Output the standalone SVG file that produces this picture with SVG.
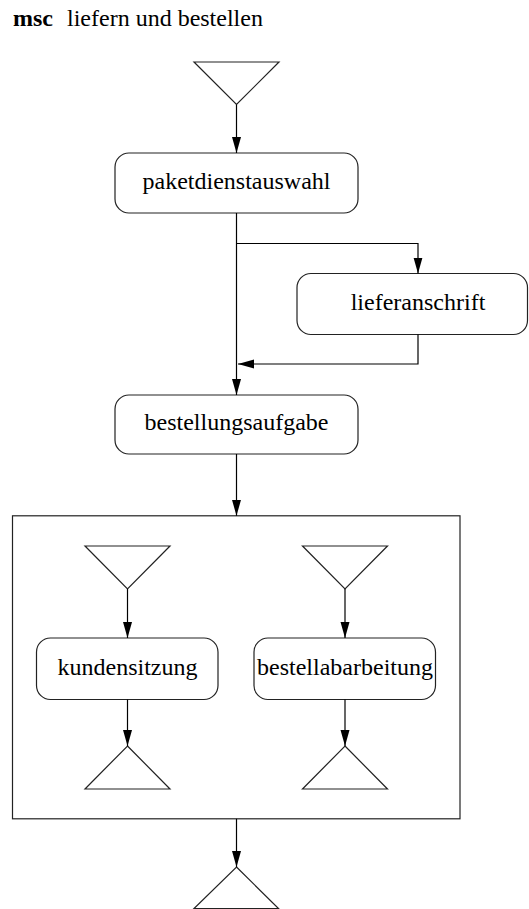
<svg xmlns="http://www.w3.org/2000/svg" width="529" height="909" viewBox="0 0 529 909">
<defs>
<marker id="ah" markerUnits="userSpaceOnUse" markerWidth="16" markerHeight="10" refX="16" refY="4.5" orient="auto">
<path d="M0,0 L16,4.5 L0,9 z" fill="#000"/>
</marker>
<style>
.n{fill:#fff;stroke:#222;stroke-width:1.2}
.t{font-family:"Liberation Serif",serif;font-size:24px;fill:#000;text-anchor:middle}
.c{fill:none;stroke:#000;stroke-width:1.2;marker-end:url(#ah)}
</style>
</defs>
<rect width="529" height="909" fill="#fff"/>
<g id="title">
<text x="13" y="26" style="font-family:'Liberation Serif',serif;font-size:24px;font-weight:bold">msc</text>
<text x="67" y="26" style="font-family:'Liberation Serif',serif;font-size:24px">liefern und bestellen</text>
</g>
<g id="frame"><rect class="n" x="12.5" y="515.8" width="447.5" height="303"/></g>
<g id="start"><polygon class="n" points="194,62 279,62 236.5,104.5"/></g>
<g id="paketdienstauswahl"><rect class="n" x="115" y="153" width="243" height="60" rx="14"/><text class="t" x="236.5" y="189">paketdienstauswahl</text></g>
<g id="lieferanschrift"><rect class="n" x="297" y="273.5" width="230.5" height="61" rx="14"/><text class="t" x="418" y="310">lieferanschrift</text></g>
<g id="bestellungsaufgabe"><rect class="n" x="115" y="395" width="243" height="59" rx="14"/><text class="t" x="236.5" y="430">bestellungsaufgabe</text></g>
<g id="start1"><polygon class="n" points="85,546 170,546 127.5,589"/></g>
<g id="start2"><polygon class="n" points="302.5,546 387.5,546 345,589"/></g>
<g id="kundensitzung"><rect class="n" x="36.5" y="638" width="181.5" height="61.5" rx="14"/><text class="t" x="127.5" y="675">kundensitzung</text></g>
<g id="bestellabarbeitung"><rect class="n" x="254" y="638" width="181.5" height="61.5" rx="14"/><text class="t" x="345" y="675">bestellabarbeitung</text></g>
<g id="end1"><polygon class="n" points="127.5,746 170,789 85,789"/></g>
<g id="end2"><polygon class="n" points="345,746 387.5,789 302.5,789"/></g>
<g id="end"><polygon class="n" points="236.5,867 278.5,908.5 194,908.5"/></g>
<g id="connectors">
<path class="c" d="M236.5,104.5 V153"/>
<path class="c" d="M236.5,213 V395"/>
<path class="c" d="M236.5,243.5 H418 V273.5"/>
<path class="c" d="M418,334.5 V364 H238"/>
<path class="c" d="M236.5,454 V515.8"/>
<path class="c" d="M127.5,589 V638"/>
<path class="c" d="M345,589 V638"/>
<path class="c" d="M127.5,699.5 V746"/>
<path class="c" d="M345,699.5 V746"/>
<path class="c" d="M236.5,818.8 V867"/>
</g>
</svg>
